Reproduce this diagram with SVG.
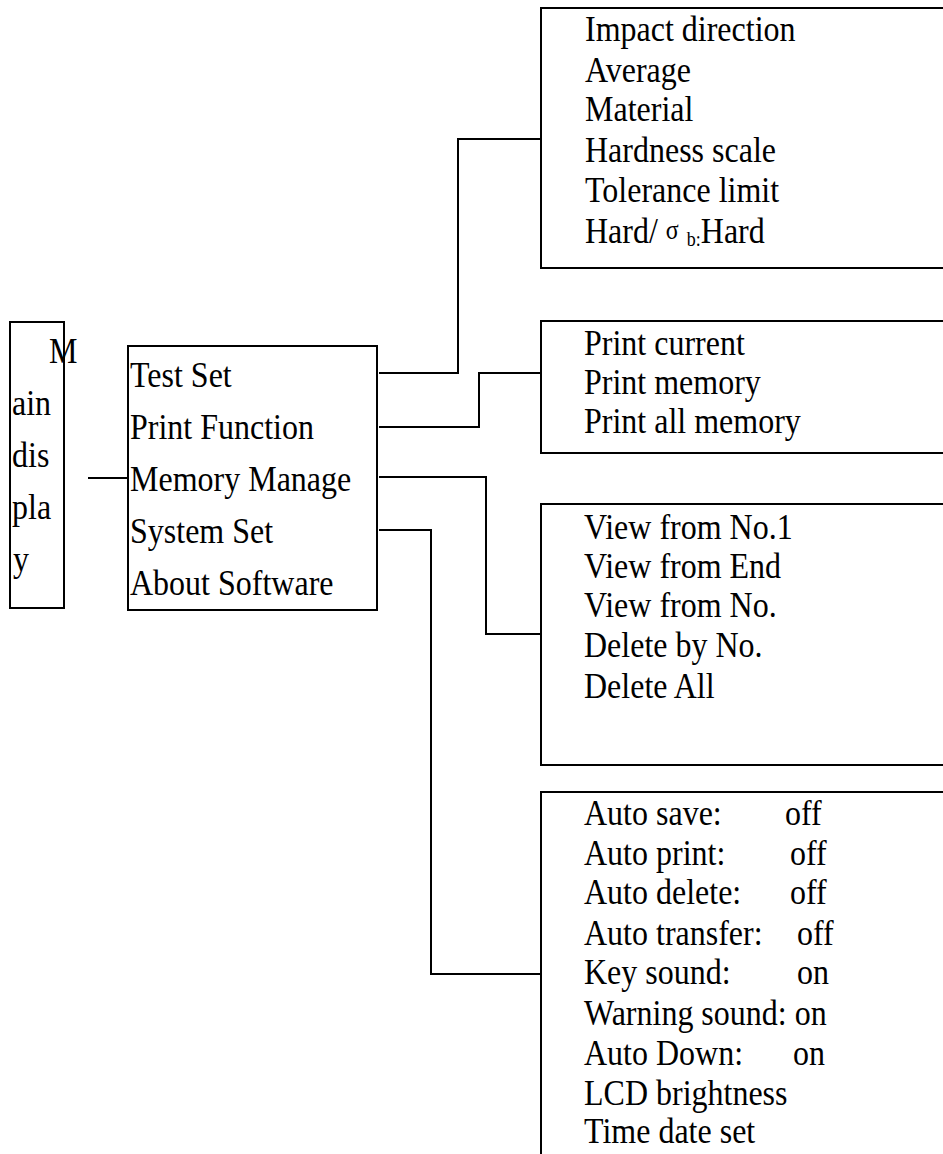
<svg xmlns="http://www.w3.org/2000/svg" width="943" height="1154" viewBox="0 0 943 1154">
<style>
.box{fill:#fff;stroke:#000;stroke-width:2}
.ln{fill:none;stroke:#000;stroke-width:2}
text{font-family:"Liberation Serif","Times New Roman",serif;font-size:32px;fill:#000}
.sm{font-size:24px}
.sub{font-size:18px}
</style>
<rect width="943" height="1154" fill="#fff"/>
<g id="connectors">
<path class="ln" d="M88,478 H128"/>
<path class="ln" d="M379,373 H458 V139 H541"/>
<path class="ln" d="M379,427 H479 V373 H541"/>
<path class="ln" d="M379,477 H486 V634 H541"/>
<path class="ln" d="M379,530 H431 V974 H541"/>
</g>
<g id="main-display">
<rect class="box" x="10" y="322" width="54" height="286"/>
<text transform="translate(49,363) scale(1,1.12)">M</text>
<text transform="translate(12,415) scale(1,1.12)">ain</text>
<text transform="translate(12,467) scale(1,1.12)">dis</text>
<text transform="translate(12,519) scale(1,1.12)">pla</text>
<text transform="translate(13,571) scale(1,1.12)">y</text>
</g>
<g id="menu">
<rect class="box" x="128" y="346" width="249" height="264"/>
<text transform="translate(130,387) scale(1,1.12)">Test Set</text>
<text transform="translate(130,439) scale(1,1.12)">Print Function</text>
<text transform="translate(130,491) scale(1,1.12)">Memory Manage</text>
<text transform="translate(130,543) scale(1,1.12)">System Set</text>
<text transform="translate(130,595) scale(1,1.12)">About Software</text>
</g>
<g id="test-set">
<rect class="box" x="541" y="8" width="420" height="260"/>
<text transform="translate(585,41) scale(1,1.12)">Impact direction</text>
<text transform="translate(585,82) scale(1,1.12)">Average</text>
<text transform="translate(585,121) scale(1,1.12)">Material</text>
<text transform="translate(585,162) scale(1,1.12)">Hardness scale</text>
<text transform="translate(585,202) scale(1,1.12)">Tolerance limit</text>
<text transform="translate(585,243) scale(1,1.12)">Hard/ <tspan class="sm" dy="-4">σ</tspan> <tspan class="sub" dy="7">b:</tspan><tspan dy="-3">Hard</tspan></text>
</g>
<g id="print-function">
<rect class="box" x="541" y="321" width="420" height="132"/>
<text transform="translate(584,355) scale(1,1.12)">Print current</text>
<text transform="translate(584,394) scale(1,1.12)">Print memory</text>
<text transform="translate(584,433) scale(1,1.12)">Print all memory</text>
</g>
<g id="memory-manage">
<rect class="box" x="541" y="504" width="420" height="261"/>
<text transform="translate(584,539) scale(1,1.12)">View from No.1</text>
<text transform="translate(584,578) scale(1,1.12)">View from End</text>
<text transform="translate(584,617) scale(1,1.12)">View from No.</text>
<text transform="translate(584,657) scale(1,1.12)">Delete by No.</text>
<text transform="translate(584,698) scale(1,1.12)">Delete All</text>
</g>
<g id="system-set">
<rect class="box" x="541" y="792" width="420" height="400"/>
<text transform="translate(584,825) scale(1,1.12)">Auto save:<tspan x="201">off</tspan></text>
<text transform="translate(584,865) scale(1,1.12)">Auto print:<tspan x="206">off</tspan></text>
<text transform="translate(584,904) scale(1,1.12)">Auto delete:<tspan x="206">off</tspan></text>
<text transform="translate(584,945) scale(1,1.12)">Auto transfer:<tspan x="213">off</tspan></text>
<text transform="translate(584,984) scale(1,1.12)">Key sound:<tspan x="213">on</tspan></text>
<text transform="translate(584,1025) scale(1,1.12)">Warning sound: on</text>
<text transform="translate(584,1065) scale(1,1.12)">Auto Down:<tspan x="209">on</tspan></text>
<text transform="translate(584,1105) scale(1,1.12)">LCD brightness</text>
<text transform="translate(584,1143) scale(1,1.12)">Time date set</text>
</g>
</svg>
